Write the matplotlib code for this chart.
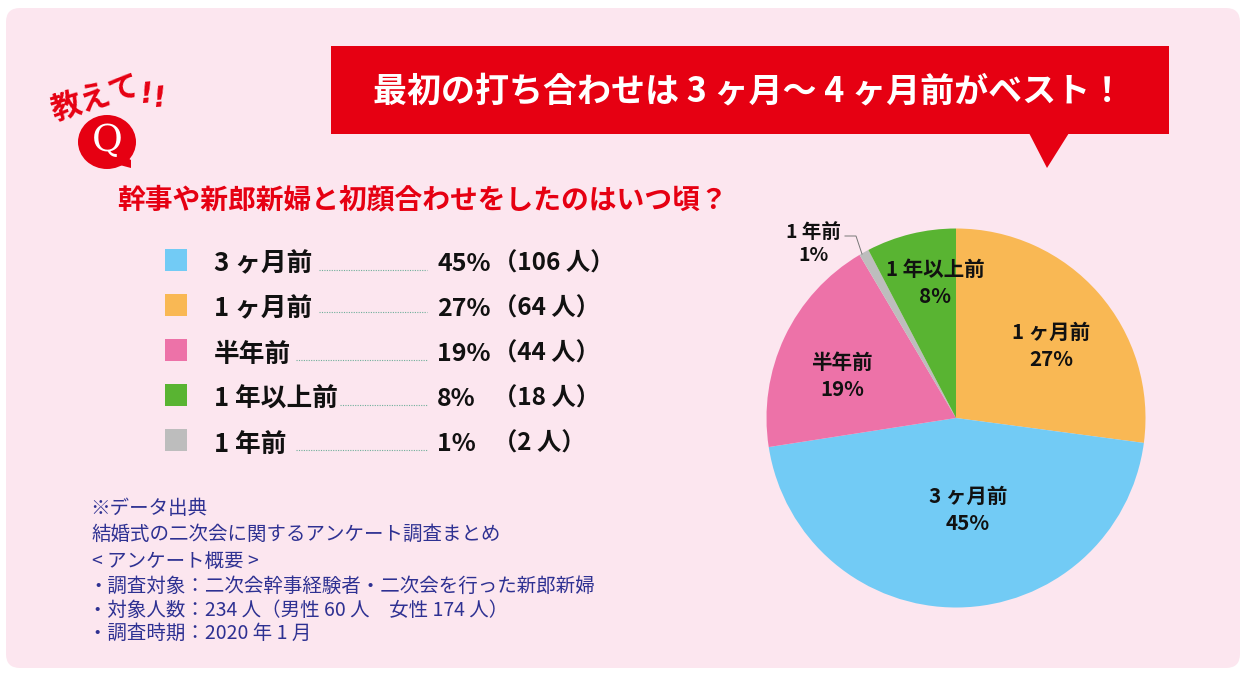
import matplotlib
matplotlib.use('Agg')
import matplotlib.pyplot as plt
from matplotlib.patches import FancyBboxPatch, Polygon, Rectangle, Ellipse

plt.rcParams['font.family'] = ['Noto Sans CJK JP', 'DejaVu Sans']

# full width signs, written as escapes so they stay full width
LP, RP, COLON, BANG, QUEST = '\uff08', '\uff09', '\uff1a', '\uff01', '\uff1f'

# data
pie_labels = ['1 ヶ月前', '3 ヶ月前', '半年前', '1 年前', '1 年以上前']
pie_values = [27.1, 45.45, 18.95, 0.85, 7.65]
pie_colors = ['#F9B854', '#72CBF5', '#ED72A8', '#BDBDBD', '#59B432']
pie_pct = ['27%', '45%', '19%', '1%', '8%']
pie_label_xy = [(1051, 346), (968, 510), (842, 376), (813, 244), (935, 283)]

legend_names = ['3 ヶ月前', '1 ヶ月前', '半年前', '1 年以上前', '1 年前']
legend_pct = ['45%', '27%', '19%', '8%', '1%']
legend_count = [LP + '106 人' + RP, LP + '64 人' + RP, LP + '44 人' + RP, LP + '18 人' + RP, LP + '2 人' + RP]
legend_colors = ['#72CBF5', '#F9B854', '#ED72A8', '#59B432', '#BDBDBD']
legend_dots_from = [319, 319, 296, 340, 296]
legend_dots_y = [270, 312, 360, 405, 450]
legend_y = [260, 305, 350, 395, 440]

note_lines = ['※データ出典', '結婚式の二次会に関するアンケート調査まとめ', '< アンケート概要 >',
              '・調査対象' + COLON + '二次会幹事経験者・二次会を行った新郎新婦',
              '・対象人数' + COLON + '234 人' + LP + '男性 60 人　女性 174 人' + RP,
              '・調査時期' + COLON + '2020 年 1 月']
note_x = [90, 92, 92, 88, 88, 88]
note_y = [509, 534, 561, 586, 610, 633]

RED = '#E60012'
PINK = '#FCE6EF'
NAVY = '#2E3192'

fig = plt.figure(figsize=(12.45, 6.78), dpi=100, facecolor='white')

# pie goes first, text overlay sits on top of it
cx, cy, r = 956, 418, 189.5
ax = fig.add_axes([(cx - r) / 1245, 1 - (cy + r) / 678, 2 * r / 1245, 2 * r / 678], zorder=2)
ax.pie(pie_values, colors=pie_colors, startangle=90, counterclock=False, radius=1,
       wedgeprops={'linewidth': 0})
ax.set_xlim(-1, 1)
ax.set_ylim(-1, 1)

bg = fig.add_axes([0, 0, 1, 1], zorder=1)
bg.set_xlim(0, 1245)
bg.set_ylim(678, 0)
bg.axis('off')

top = fig.add_axes([0, 0, 1, 1], zorder=3)
top.set_xlim(0, 1245)
top.set_ylim(678, 0)
top.axis('off')

bg.add_patch(FancyBboxPatch((18, 20), 1210, 636, boxstyle='round,pad=12,rounding_size=14', fc=PINK, ec='none'))

# title banner
bg.add_patch(Rectangle((331, 46), 838, 88, fc=RED, ec='none'))
bg.add_patch(Polygon([(1029, 133), (1069, 133), (1047, 168)], fc=RED, ec='none'))
bg.text(373, 91, '最初の打ち合わせは 3 ヶ月〜 4 ヶ月前がベスト' + BANG, color='white', fontsize=24.5,
        fontweight='bold', ha='left', va='center')

# Q badge
bg.text(96, 99, '教えて', color=RED, fontsize=22, fontweight='bold', rotation=17, ha='center', va='center')
bg.text(147, 94, '!', color=RED, fontsize=21, fontstyle='italic', fontweight='bold', rotation=5,
        ha='center', va='center', family='DejaVu Sans')
bg.text(160, 98, '!', color=RED, fontsize=21, fontstyle='italic', fontweight='bold', rotation=5,
        ha='center', va='center', family='DejaVu Sans')
bg.add_patch(Ellipse((107, 142), 58, 54, fc=RED, ec='none'))
bg.add_patch(Polygon([(122, 155), (131, 160), (131, 168), (116, 164)], fc=RED, ec='none'))
bg.text(107, 141, 'Q', color='white', fontsize=27, family='DejaVu Serif', ha='center', va='center')

bg.text(117, 200, '幹事や新郎新婦と初顔合わせをしたのはいつ頃' + QUEST, color=RED, fontsize=20,
        fontweight='bold', ha='left', va='center')

# legend list
for name, pct, cnt, col, x0, dy, y in zip(legend_names, legend_pct, legend_count, legend_colors,
                                          legend_dots_from, legend_dots_y, legend_y):
    bg.add_patch(Rectangle((165, y - 11), 22, 22, fc=col, ec='none'))
    bg.text(214, y + 4, name, fontsize=18.5, fontweight='bold', color='#111111', va='center')
    bg.plot([x0, 427], [dy, dy], color='#6FAF9A', lw=0.8, ls=(0, (1, 1.2)))
    bg.text(437, y + 4, pct, fontsize=18, fontweight='bold', color='#111111', va='center')
    bg.text(493, y + 4, cnt, fontsize=17.5, fontweight='bold', color='#111111', va='center')

# notes
for line, x, y in zip(note_lines, note_x, note_y):
    bg.text(x, y, line, fontsize=14, color=NAVY, va='center')

# pie labels, the small outside one is set a bit tighter
for name, pct, (x, y) in zip(pie_labels, pie_pct, pie_label_xy):
    small = name == '1 年前'
    top.text(x, y, name + '\n' + pct, fontsize=14 if small else 14.8, fontweight='bold', color='#111111',
             ha='center', va='center', linespacing=1.25 if small else 1.36)
top.plot([845, 856, 862], [236, 236, 254], color='#777777', lw=0.7)

fig.savefig('out.png', dpi=100)
